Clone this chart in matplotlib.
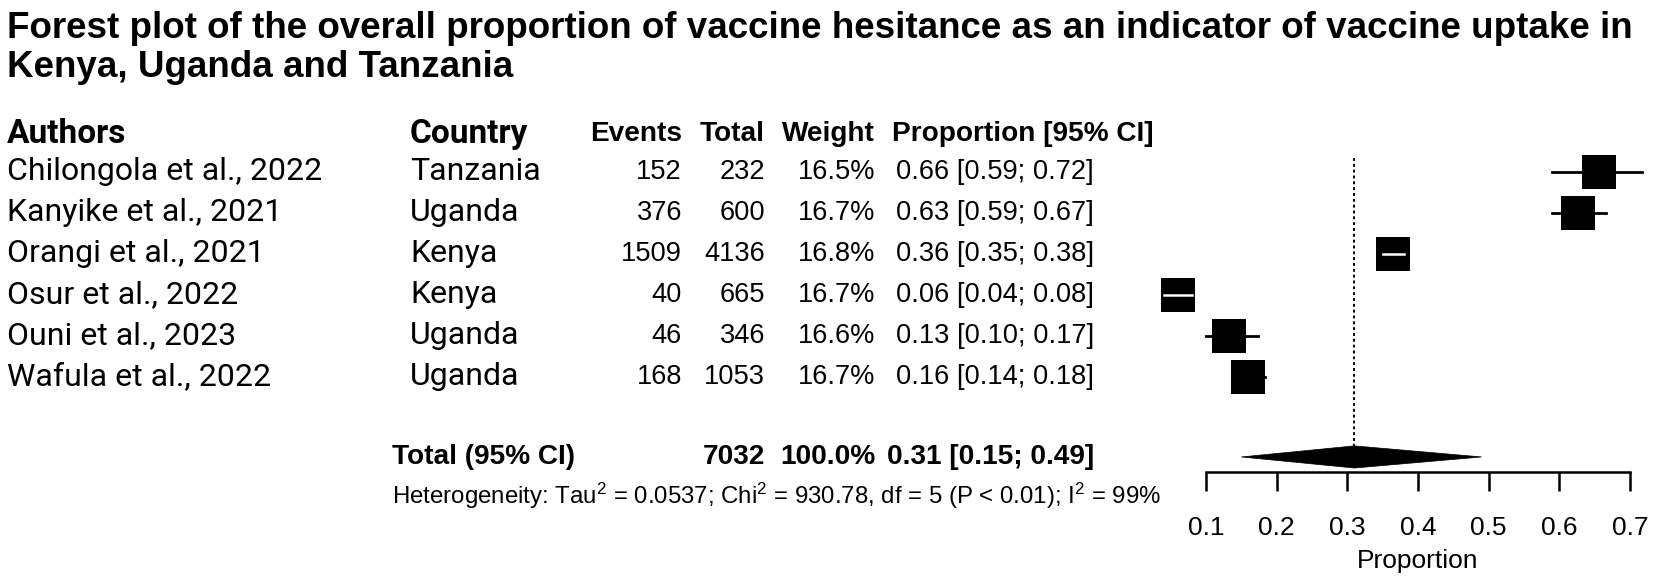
import numpy as np, matplotlib
matplotlib.use("Agg"); import matplotlib.pyplot as plt
from matplotlib.patches import Polygon
import matplotlib.transforms as mtransforms

authors = ["Chilongola et al., 2022", "Kanyike et al., 2021", "Orangi et al., 2021",
           "Osur et al., 2022", "Ouni et al., 2023", "Wafula et al., 2022"]
countries = ["Tanzania", "Uganda", "Kenya", "Kenya", "Uganda", "Uganda"]
events = [152, 376, 1509, 40, 46, 168]
totals = [232, 600, 4136, 665, 346, 1053]
weights = [16.5, 16.7, 16.8, 16.7, 16.6, 16.7]
prop = [0.656, 0.627, 0.364, 0.060, 0.133, 0.159]
ci_lo = [0.59, 0.59, 0.35, 0.04, 0.10, 0.138]
ci_hi = [0.717, 0.666, 0.38, 0.08, 0.173, 0.184]
pooled, pooled_lo, pooled_hi = 0.31, 0.15, 0.49
het = r"Heterogeneity: Tau$^2$ = 0.0537; Chi$^2$ = 930.78, df = 5 (P < 0.01); I$^2$ = 99%"
xticks = [0.1, 0.2, 0.3, 0.4, 0.5, 0.6, 0.7]

plt.rcParams["mathtext.fontset"] = "custom"
plt.rcParams["mathtext.rm"] = "Liberation Sans"
plt.rcParams["mathtext.it"] = "Liberation Sans:italic"
ARIAL = "Liberation Sans"; DIN = "Roboto"
FS = 19.6   # table numbers
FSH = 20.2  # bold column headers

W, H = 1654, 587
fig = plt.figure(figsize=(W/100, H/100), dpi=100)
bg = fig.add_axes([0, 0, 1, 1]); bg.axis("off"); bg.set_xlim(0, W); bg.set_ylim(H, 0)

# forest panel: x 0.1..0.7 spans px 1206..1630, rows 41px apart from y=172, axis line at y=472
ax_top, ax_bot = 148, 472
ax = fig.add_axes([1206/W, (H-ax_bot)/H, 424/W, (ax_bot-ax_top)/H])
ax.set_xlim(0.1, 0.7); ax.set_ylim((ax_bot-172)/41, (ax_top-172)/41)
for s in ["top", "right", "left"]: ax.spines[s].set_visible(False)
ax.spines["bottom"].set_linewidth(1.8)
ax.set_yticks([]); ax.set_xticks(xticks)
ax.set_xticklabels([f"{t:.1f}" for t in xticks], fontsize=19, family=ARIAL)
ax.tick_params(axis="x", length=14, width=1.8, pad=18)
ax.set_xlabel("Proportion", fontsize=19, family=ARIAL, labelpad=6)
ax.patch.set_alpha(0)

ms_max = 25
half = (ms_max*100/72/2) / (424/0.6)
tot_row, het_row, head_row = 6.95, 7.9, -0.93
ax.plot([pooled, pooled], [-0.35, tot_row-0.25], ls=(0, (1.5, 1.5)), color="black", lw=1.4, zorder=1)
for i, (p, l, h, w) in enumerate(zip(prop, ci_lo, ci_hi, weights)):
    ms = ms_max*np.sqrt(w/max(weights))
    ax.plot([l, h], [i, i], color="black", lw=2, clip_on=False, zorder=2)
    ax.plot([p], [i], marker="s", ms=ms, color="black", mew=0, clip_on=False, zorder=3)
    hw = half*np.sqrt(w/max(weights))
    if l > p-hw and h < p+hw:
        ax.plot([l, h], [i, i], color="white", lw=1.8, clip_on=False, zorder=4)
ax.add_patch(Polygon([(pooled_lo, tot_row), (pooled, tot_row-0.27), (pooled_hi, tot_row), (pooled, tot_row+0.27)],
                     closed=True, fc="black", ec="black", lw=0.5, clip_on=False, zorder=3))

# table text: x in pixels, y in row units of the forest panel
tr = mtransforms.blended_transform_factory(bg.transData, ax.transData)
x_auth, x_ctry, x_ev, x_tot, x_w, x_pl, x_pr = 7, 410, 682, 765, 875, 892, 1094
bg.text(x_auth, head_row, "Authors", transform=tr, family=DIN, fontsize=24, fontweight="bold", va="center")
bg.text(x_ctry, head_row, "Country", transform=tr, family=DIN, fontsize=24, fontweight="bold", va="center")
for x, t in [(x_ev, "Events"), (x_tot, "Total"), (x_w, "Weight")]:
    bg.text(x, head_row, t, transform=tr, family=ARIAL, fontsize=FSH, fontweight="bold", va="center", ha="right")
bg.text(x_pl, head_row, "Proportion [95% CI]", transform=tr, family=ARIAL, fontsize=FSH, fontweight="bold", va="center")
for i in range(len(authors)):
    bg.text(x_auth, i, authors[i], transform=tr, family=DIN, fontsize=23, va="center")
    bg.text(x_ctry, i, countries[i], transform=tr, family=DIN, fontsize=23, va="center")
    bg.text(x_ev, i, str(events[i]), transform=tr, family=ARIAL, fontsize=FS, va="center", ha="right")
    bg.text(x_tot, i, str(totals[i]), transform=tr, family=ARIAL, fontsize=FS, va="center", ha="right")
    bg.text(x_w, i, f"{weights[i]:.1f}%", transform=tr, family=ARIAL, fontsize=FS, va="center", ha="right")
    bg.text(x_pr, i, f"{prop[i]:.2f} [{ci_lo[i]:.2f}; {ci_hi[i]:.2f}]", transform=tr, family=ARIAL, fontsize=FS, va="center", ha="right")
bg.text(392, tot_row, "Total (95% CI)", transform=tr, family=ARIAL, fontsize=FSH, fontweight="bold", va="center")
bg.text(x_tot, tot_row, str(sum(totals)), transform=tr, family=ARIAL, fontsize=FSH, fontweight="bold", va="center", ha="right")
bg.text(x_w, tot_row, f"{sum(weights):.1f}%", transform=tr, family=ARIAL, fontsize=FSH, fontweight="bold", va="center", ha="right")
bg.text(x_pr, tot_row, f"{pooled:.2f} [{pooled_lo:.2f}; {pooled_hi:.2f}]", transform=tr, family=ARIAL, fontsize=FSH, fontweight="bold", va="center", ha="right")
bg.text(392, het_row, het, transform=tr, family=ARIAL, fontsize=17.3, va="center")

bg.text(7, 38, "Forest plot of the overall proportion of vaccine hesitance as an indicator of vaccine uptake in",
        family=ARIAL, fontsize=26.5, fontweight="bold", va="baseline")
bg.text(7, 77, "Kenya, Uganda and Tanzania", family=ARIAL, fontsize=26.5, fontweight="bold", va="baseline")
fig.savefig("out.png", dpi=100)
